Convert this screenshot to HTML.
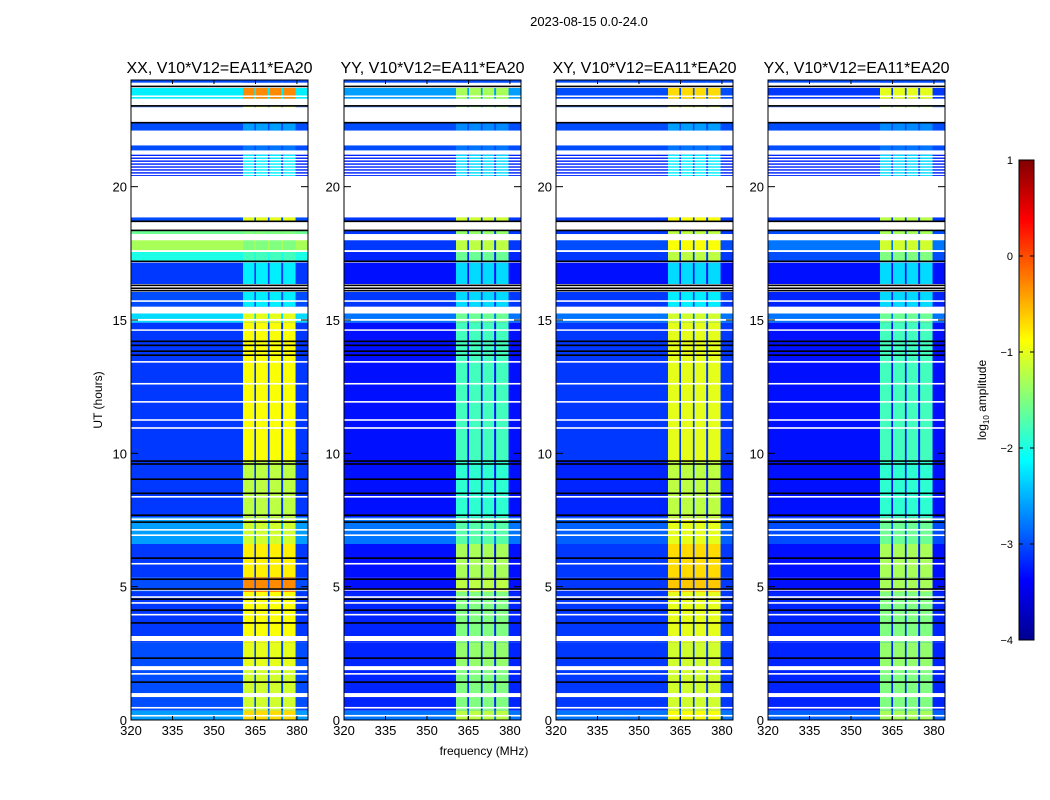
<!DOCTYPE html>
<html><head><meta charset="utf-8"><style>
body{margin:0;background:#fff;}
svg{display:block;font-family:"Liberation Sans",sans-serif;}
</style></head><body>
<svg id="fig" width="1050" height="800" viewBox="0 0 1050 800">
<defs>
<linearGradient id="jetgrad" x1="0" y1="1" x2="0" y2="0">
<stop offset="0" stop-color="#00008f"/><stop offset="0.125" stop-color="#0000ff"/>
<stop offset="0.375" stop-color="#00ffff"/><stop offset="0.625" stop-color="#ffff00"/>
<stop offset="0.875" stop-color="#ff0000"/><stop offset="1" stop-color="#800000"/>
</linearGradient>
</defs>
<text x="589" y="26" font-size="13" text-anchor="middle">2023-08-15 0.0-24.0</text>
<text x="484" y="755" font-size="12" text-anchor="middle">frequency (MHz)</text>
<text transform="translate(102,400) rotate(-90)" font-size="12" text-anchor="middle">UT (hours)</text>
<g id="panels"></g>
<g>
<rect x="1019" y="160" width="15" height="480" fill="url(#jetgrad)" stroke="#000" stroke-width="1"/>
<g id="cbticks"></g>
<text transform="translate(986,400) rotate(-90)" font-size="12" text-anchor="middle">log<tspan font-size="8" dy="3">10</tspan><tspan dy="-3"> amplitude</tspan></text>
</g>
</svg>
<script>
// ---- data ----
const panelTitles = ["XX, V10*V12=EA11*EA20","YY, V10*V12=EA11*EA20","XY, V10*V12=EA11*EA20","YX, V10*V12=EA11*EA20"];
const xTicks = [320,335,350,365,380];
const yTicks = [0,5,10,15,20];
const cbTicks = [-4,-3,-2,-1,0,1];
// time segments [start hour, end hour]
const segStart = [23.9,23.3,22.85,22.1,21.35,20.4,18.72,18.22,17.6,17.2,16.35,15.5,14.9,9.7,7.6,6.6,5.35,4.8,2.9,2.0,0.35,0.0];
const segEnd   = [24.0,23.7,23.0,22.4,21.55,21.2,18.85,18.36,18.05,17.55,17.15,16.05,15.3,14.9,9.7,7.6,6.6,5.35,4.8,2.9,1.9,0.35];
// background (off-band) log amplitude per segment
const bgXX = [-3.0,-2.2,-3.0,-3.0,-3.0,-3.2,-3.0,-1.6,-1.3,-2.0,-3.1,-3.0,-2.3,-3.1,-3.1,-2.6,-3.1,-3.0,-3.1,-3.0,-3.0,-2.6];
const bgYY = [-3.0,-2.6,-3.0,-3.0,-3.0,-3.2,-3.1,-3.1,-3.1,-3.2,-3.3,-3.1,-2.8,-3.3,-3.3,-2.8,-3.3,-3.3,-3.2,-3.2,-3.2,-2.8];
const bgXY = [-3.0,-3.0,-3.0,-3.0,-3.0,-3.2,-3.1,-3.1,-3.0,-3.1,-3.3,-3.1,-2.8,-3.1,-3.2,-2.9,-3.1,-3.1,-3.1,-3.1,-3.1,-2.8];
const bgYX = [-3.0,-3.1,-3.0,-3.0,-3.0,-3.2,-3.1,-3.0,-2.8,-3.0,-3.3,-3.2,-2.8,-3.3,-3.3,-3.0,-3.3,-3.3,-3.2,-3.2,-3.2,-2.9];
// in-band (360-380 MHz) log amplitude per segment
const bandXX = [-3.0,-0.3,-1.0,-2.6,-2.8,-2.2,-1.0,-1.5,-1.5,-1.8,-2.2,-2.2,-1.0,-0.9,-1.2,-1.1,-0.8,-0.3,-0.9,-1.0,-1.1,-0.7];
const bandYY = [-3.0,-1.3,-1.4,-2.7,-2.8,-2.3,-1.1,-1.4,-1.2,-1.6,-2.3,-2.3,-1.6,-1.8,-1.9,-1.7,-1.3,-1.2,-1.5,-1.4,-1.5,-1.2];
const bandXY = [-3.0,-0.7,-1.0,-2.6,-2.8,-2.2,-0.9,-1.2,-0.9,-1.2,-2.3,-2.2,-1.1,-1.0,-1.2,-1.0,-0.7,-0.6,-1.0,-1.1,-1.1,-0.9];
const bandYX = [-3.0,-1.0,-1.2,-2.7,-2.8,-2.3,-1.2,-1.3,-1.1,-1.5,-2.3,-2.3,-1.6,-1.8,-1.9,-1.6,-1.3,-1.3,-1.5,-1.4,-1.5,-1.3];
const bgAll = [bgXX,bgYY,bgXY,bgYX];
const bandAll = [bandXX,bandYY,bandXY,bandYX];
// sub-band edges (MHz)
const subLo = [360.5,365.2,370.1,375.0];
const subHi = [364.6,369.5,374.3,379.5];
// flagged (white) rows [start,end] hours
const flagLo = [23.37,23.1,22.41,21.55,21.29,18.85,18.37,17.99,17.57,15.68,15.25,14.97,14.6,13.4,12.58,11.9,11.22,10.92,8.34,7.5,7.1,6.9,5.83,4.85,4.58,4.36,3.92,2.96,1.87,1.7,0.86,0.43,0.13,20.45,20.56,20.67,20.78,20.89,21.0,21.11];
const flagHi = [23.42,23.24,22.98,22.1,21.36,20.4,18.72,18.22,17.62,15.74,15.3,15.04,14.65,13.46,12.64,11.96,11.28,10.98,8.4,7.56,7.16,6.96,5.89,4.91,4.64,4.42,3.98,3.15,2.02,1.76,1.01,0.49,0.19,20.49,20.6,20.71,20.82,20.93,21.04,21.15];
// black rows (hours)
const blackRows = [23.76,23.03,22.4,18.7,18.36,17.2,16.3,16.19,16.1,14.2,14.05,13.83,13.68,9.71,9.6,9.03,8.5,7.68,7.42,6.07,5.28,4.91,4.53,4.12,3.64,2.32,1.42];

// ---- rendering ----
const NS="http://www.w3.org/2000/svg";
const panelX=[131,344,556,768], PW=177, PT=80, PB=720;
const fx=(p,f)=>panelX[p]+(f-320)*PW/64;
const hy=h=>PB-h*(PB-PT)/24;
function jet(v){const t=Math.max(0,Math.min(1,(v+4)/5));const c=x=>Math.round(255*Math.max(0,Math.min(1,1.5-Math.abs(4*t-x))));return `rgb(${c(3)},${c(2)},${c(1)})`;}
function mk(tag,attrs,parent){const e=document.createElementNS(NS,tag);for(const k in attrs)e.setAttribute(k,attrs[k]);parent.appendChild(e);return e;}
const root=document.getElementById('panels');
for(let p=0;p<4;p++){
  const g=mk('g',{},root);
  
  
  const hm=mk('g',{},g);
  
  
  for(let s=0;s<segStart.length;s++){
    const y0=hy(segEnd[s]), y1=hy(segStart[s]);
    const r=mk('rect',{x:fx(p,320),y:y0,width:PW,height:y1-y0,fill:jet(bgAll[p][s])},hm);
    
    
    for(let b=0;b<subLo.length;b++){
      const c=mk('rect',{x:fx(p,subLo[b]),y:y0,width:fx(p,subHi[b])-fx(p,subLo[b]),height:y1-y0,fill:jet(bandAll[p][s])},hm);
      
      
    }
  }
  for(let i=0;i<flagLo.length;i++){
    const y0=hy(flagHi[i]), y1=hy(flagLo[i]);
    const r=mk('rect',{x:fx(p,320),y:y0,width:PW,height:Math.max(1.5,y1-y0),fill:'#fff'},hm);
    
    
  }
  for(const h of blackRows){
    const r=mk('rect',{x:fx(p,320),y:hy(h)-0.8,width:PW,height:1.6,fill:'#000'},hm);
    
    
  }
  const fr=mk('rect',{x:panelX[p],y:PT,width:PW,height:PB-PT,fill:'none',stroke:'#000','stroke-width':1},g);
  
  
  const t=mk('text',{x:panelX[p]+PW/2,y:73,'font-size':16,'text-anchor':'middle'},g);
  t.textContent=panelTitles[p];
  
  
  for(const v of xTicks){
    const x=fx(p,v);
    mk('line',{x1:x,x2:x,y1:PB,y2:PB-4,stroke:'#000'},g);
    mk('line',{x1:x,x2:x,y1:PT,y2:PT+4,stroke:'#000'},g);
    const l=mk('text',{x:x,y:PB+15,'font-size':13,'text-anchor':'middle'},g);
    l.textContent=v;
    
    
  }
  for(const v of yTicks){
    const y=hy(v);
    mk('line',{x1:panelX[p],x2:panelX[p]+7,y1:y,y2:y,stroke:'#000'},g);
    mk('line',{x1:panelX[p]+PW,x2:panelX[p]+PW-7,y1:y,y2:y,stroke:'#000'},g);
    const l=mk('text',{x:panelX[p]-4,y:y+5,'font-size':13,'text-anchor':'end'},g);
    l.textContent=v;
    
    
  }
}
const cb=document.getElementById('cbticks');
for(const v of cbTicks){
  const y=640-(v+4)*96;
  mk('line',{x1:1019,x2:1023,y1:y,y2:y,stroke:'#000'},cb);
  mk('line',{x1:1034,x2:1030,y1:y,y2:y,stroke:'#000'},cb);
  const l=mk('text',{x:1013,y:y+4,'font-size':11,'text-anchor':'end'},cb);
  l.textContent=v<0?'\u2212'+(-v):String(v);
  
  
}
</script>
</body></html>
